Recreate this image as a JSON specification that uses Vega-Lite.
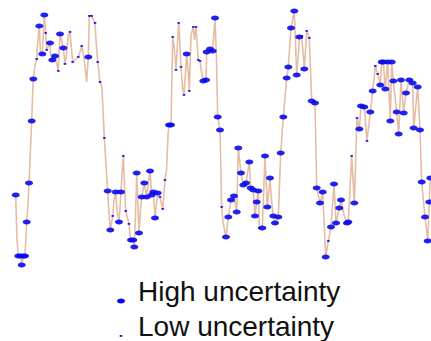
{
  "$schema": "https://vega.github.io/schema/vega-lite/v6.json",
  "width": 431,
  "height": 341,
  "autosize": "none",
  "padding": 0,
  "background": "white",
  "config": {"view": {"stroke": null}},
  "data": {"values": [
    {"t":15.7,"v":75,"u":"High uncertainty"},
    {"t":17,"v":30,"u":"none"},
    {"t":18.3,"v":14,"u":"High uncertainty"},
    {"t":20.7,"v":14,"u":"High uncertainty"},
    {"t":21.7,"v":5,"u":"High uncertainty"},
    {"t":23.3,"v":14,"u":"High uncertainty"},
    {"t":25,"v":14,"u":"High uncertainty"},
    {"t":26.7,"v":48,"u":"High uncertainty"},
    {"t":28,"v":65,"u":"none"},
    {"t":29,"v":87,"u":"High uncertainty"},
    {"t":31.7,"v":149,"u":"High uncertainty"},
    {"t":32.5,"v":173,"u":"none"},
    {"t":33.3,"v":191,"u":"High uncertainty"},
    {"t":35,"v":204,"u":"none"},
    {"t":36.7,"v":211,"u":"Low uncertainty"},
    {"t":37.5,"v":225,"u":"none"},
    {"t":39.3,"v":244,"u":"High uncertainty"},
    {"t":40.5,"v":217,"u":"none"},
    {"t":42.3,"v":216,"u":"High uncertainty"},
    {"t":44.3,"v":255,"u":"High uncertainty"},
    {"t":45.7,"v":237,"u":"Low uncertainty"},
    {"t":46.7,"v":220,"u":"Low uncertainty"},
    {"t":50,"v":227,"u":"High uncertainty"},
    {"t":50.7,"v":215,"u":"none"},
    {"t":52.3,"v":210,"u":"High uncertainty"},
    {"t":55,"v":214,"u":"High uncertainty"},
    {"t":58.3,"v":199,"u":"Low uncertainty"},
    {"t":60,"v":236,"u":"High uncertainty"},
    {"t":63.3,"v":222,"u":"High uncertainty"},
    {"t":65,"v":206,"u":"Low uncertainty"},
    {"t":66.7,"v":217,"u":"none"},
    {"t":68.3,"v":235,"u":"none"},
    {"t":70,"v":238,"u":"Low uncertainty"},
    {"t":72.7,"v":208,"u":"Low uncertainty"},
    {"t":75,"v":210,"u":"none"},
    {"t":78.3,"v":213,"u":"Low uncertainty"},
    {"t":80,"v":218,"u":"none"},
    {"t":81.7,"v":224,"u":"Low uncertainty"},
    {"t":83.3,"v":217,"u":"none"},
    {"t":85,"v":203,"u":"none"},
    {"t":86.7,"v":188,"u":"none"},
    {"t":88.3,"v":213,"u":"High uncertainty"},
    {"t":89.3,"v":254,"u":"Low uncertainty"},
    {"t":91.7,"v":254,"u":"Low uncertainty"},
    {"t":95,"v":247,"u":"Low uncertainty"},
    {"t":96,"v":230,"u":"none"},
    {"t":97.7,"v":208,"u":"Low uncertainty"},
    {"t":100,"v":188,"u":"Low uncertainty"},
    {"t":102,"v":182,"u":"none"},
    {"t":104.3,"v":132,"u":"Low uncertainty"},
    {"t":106,"v":105,"u":"none"},
    {"t":107.7,"v":79,"u":"High uncertainty"},
    {"t":109,"v":55,"u":"none"},
    {"t":110.3,"v":40,"u":"High uncertainty"},
    {"t":112.7,"v":54,"u":"Low uncertainty"},
    {"t":114,"v":70,"u":"none"},
    {"t":115.7,"v":78,"u":"High uncertainty"},
    {"t":117,"v":60,"u":"none"},
    {"t":119,"v":48,"u":"High uncertainty"},
    {"t":121,"v":78,"u":"High uncertainty"},
    {"t":122,"v":95,"u":"none"},
    {"t":123.3,"v":114,"u":"Low uncertainty"},
    {"t":124.5,"v":85,"u":"none"},
    {"t":125.7,"v":59,"u":"Low uncertainty"},
    {"t":127.5,"v":52,"u":"none"},
    {"t":129,"v":46,"u":"Low uncertainty"},
    {"t":130,"v":35,"u":"none"},
    {"t":131,"v":30,"u":"High uncertainty"},
    {"t":133.3,"v":30,"u":"High uncertainty"},
    {"t":134.3,"v":23,"u":"High uncertainty"},
    {"t":135.5,"v":55,"u":"none"},
    {"t":136.7,"v":97,"u":"High uncertainty"},
    {"t":138,"v":65,"u":"none"},
    {"t":139,"v":37,"u":"High uncertainty"},
    {"t":140.5,"v":60,"u":"none"},
    {"t":141.7,"v":73,"u":"High uncertainty"},
    {"t":144.3,"v":87,"u":"High uncertainty"},
    {"t":146.7,"v":73,"u":"High uncertainty"},
    {"t":148,"v":85,"u":"none"},
    {"t":150,"v":99,"u":"High uncertainty"},
    {"t":151.7,"v":75,"u":"High uncertainty"},
    {"t":153.3,"v":78,"u":"High uncertainty"},
    {"t":155,"v":52,"u":"High uncertainty"},
    {"t":157.7,"v":77,"u":"High uncertainty"},
    {"t":160,"v":73,"u":"Low uncertainty"},
    {"t":162.7,"v":61,"u":"Low uncertainty"},
    {"t":165,"v":90,"u":"Low uncertainty"},
    {"t":166.5,"v":100,"u":"none"},
    {"t":168,"v":135,"u":"none"},
    {"t":169,"v":145,"u":"High uncertainty"},
    {"t":171,"v":145,"u":"High uncertainty"},
    {"t":172.7,"v":233,"u":"Low uncertainty"},
    {"t":174,"v":225,"u":"none"},
    {"t":176,"v":200,"u":"Low uncertainty"},
    {"t":178.7,"v":247,"u":"Low uncertainty"},
    {"t":180,"v":225,"u":"none"},
    {"t":181,"v":203,"u":"Low uncertainty"},
    {"t":182.7,"v":182,"u":"none"},
    {"t":184,"v":175,"u":"Low uncertainty"},
    {"t":186.7,"v":216,"u":"High uncertainty"},
    {"t":188,"v":200,"u":"none"},
    {"t":189.3,"v":179,"u":"Low uncertainty"},
    {"t":191,"v":235,"u":"none"},
    {"t":193.3,"v":243,"u":"Low uncertainty"},
    {"t":194.5,"v":230,"u":"none"},
    {"t":196,"v":243,"u":"Low uncertainty"},
    {"t":198.3,"v":210,"u":"Low uncertainty"},
    {"t":200,"v":209,"u":"Low uncertainty"},
    {"t":201.5,"v":198,"u":"none"},
    {"t":203.3,"v":189,"u":"High uncertainty"},
    {"t":206,"v":190,"u":"High uncertainty"},
    {"t":206.7,"v":218,"u":"High uncertainty"},
    {"t":210,"v":221,"u":"High uncertainty"},
    {"t":212.7,"v":219,"u":"High uncertainty"},
    {"t":215,"v":252,"u":"High uncertainty"},
    {"t":216.5,"v":210,"u":"none"},
    {"t":217.7,"v":153,"u":"High uncertainty"},
    {"t":220,"v":140,"u":"High uncertainty"},
    {"t":221.7,"v":63,"u":"Low uncertainty"},
    {"t":223,"v":48,"u":"none"},
    {"t":226,"v":33,"u":"High uncertainty"},
    {"t":228.3,"v":53,"u":"High uncertainty"},
    {"t":231,"v":70,"u":"High uncertainty"},
    {"t":234,"v":74,"u":"High uncertainty"},
    {"t":236.7,"v":58,"u":"High uncertainty"},
    {"t":238.3,"v":122,"u":"High uncertainty"},
    {"t":241,"v":97,"u":"High uncertainty"},
    {"t":243.3,"v":85,"u":"High uncertainty"},
    {"t":246,"v":87,"u":"High uncertainty"},
    {"t":249.3,"v":108,"u":"High uncertainty"},
    {"t":250.7,"v":82,"u":"High uncertainty"},
    {"t":253.3,"v":80,"u":"High uncertainty"},
    {"t":255,"v":54,"u":"High uncertainty"},
    {"t":256.7,"v":68,"u":"High uncertainty"},
    {"t":258.3,"v":79,"u":"High uncertainty"},
    {"t":259.3,"v":42,"u":"Low uncertainty"},
    {"t":262.3,"v":42,"u":"High uncertainty"},
    {"t":265,"v":114,"u":"High uncertainty"},
    {"t":267.3,"v":63,"u":"High uncertainty"},
    {"t":270,"v":92,"u":"High uncertainty"},
    {"t":271.5,"v":70,"u":"none"},
    {"t":273.3,"v":54,"u":"High uncertainty"},
    {"t":275,"v":47,"u":"High uncertainty"},
    {"t":278.3,"v":53,"u":"High uncertainty"},
    {"t":280.7,"v":117,"u":"High uncertainty"},
    {"t":283.3,"v":153,"u":"High uncertainty"},
    {"t":286.7,"v":192,"u":"High uncertainty"},
    {"t":288.3,"v":203,"u":"High uncertainty"},
    {"t":291,"v":242,"u":"High uncertainty"},
    {"t":294.3,"v":259,"u":"High uncertainty"},
    {"t":296.7,"v":195,"u":"High uncertainty"},
    {"t":298,"v":210,"u":"none"},
    {"t":299.3,"v":233,"u":"High uncertainty"},
    {"t":301.7,"v":234,"u":"Low uncertainty"},
    {"t":304.3,"v":201,"u":"High uncertainty"},
    {"t":306.7,"v":239,"u":"Low uncertainty"},
    {"t":309.3,"v":232,"u":"Low uncertainty"},
    {"t":311.7,"v":169,"u":"High uncertainty"},
    {"t":315,"v":167,"u":"High uncertainty"},
    {"t":316.7,"v":82,"u":"High uncertainty"},
    {"t":320,"v":67,"u":"High uncertainty"},
    {"t":322.7,"v":78,"u":"High uncertainty"},
    {"t":325.7,"v":13,"u":"High uncertainty"},
    {"t":328.3,"v":29,"u":"Low uncertainty"},
    {"t":331,"v":43,"u":"High uncertainty"},
    {"t":334,"v":86,"u":"High uncertainty"},
    {"t":336,"v":47,"u":"High uncertainty"},
    {"t":339.3,"v":62,"u":"High uncertainty"},
    {"t":341,"v":70,"u":"High uncertainty"},
    {"t":344,"v":55,"u":"none"},
    {"t":347,"v":47,"u":"High uncertainty"},
    {"t":348.3,"v":48,"u":"High uncertainty"},
    {"t":351.7,"v":114,"u":"Low uncertainty"},
    {"t":354.3,"v":67,"u":"High uncertainty"},
    {"t":357,"v":152,"u":"Low uncertainty"},
    {"t":359.3,"v":141,"u":"High uncertainty"},
    {"t":361,"v":164,"u":"High uncertainty"},
    {"t":364.3,"v":163,"u":"High uncertainty"},
    {"t":367,"v":129,"u":"Low uncertainty"},
    {"t":370.3,"v":158,"u":"High uncertainty"},
    {"t":372.7,"v":179,"u":"High uncertainty"},
    {"t":375.3,"v":204,"u":"Low uncertainty"},
    {"t":377.7,"v":196,"u":"Low uncertainty"},
    {"t":380.3,"v":185,"u":"High uncertainty"},
    {"t":381.7,"v":208,"u":"High uncertainty"},
    {"t":383.3,"v":208,"u":"High uncertainty"},
    {"t":385.3,"v":181,"u":"High uncertainty"},
    {"t":387.7,"v":208,"u":"High uncertainty"},
    {"t":390.3,"v":149,"u":"High uncertainty"},
    {"t":391.7,"v":208,"u":"High uncertainty"},
    {"t":393.3,"v":189,"u":"High uncertainty"},
    {"t":396.7,"v":158,"u":"High uncertainty"},
    {"t":398.7,"v":136,"u":"High uncertainty"},
    {"t":401,"v":190,"u":"High uncertainty"},
    {"t":403.7,"v":157,"u":"High uncertainty"},
    {"t":406,"v":177,"u":"High uncertainty"},
    {"t":409.3,"v":190,"u":"High uncertainty"},
    {"t":412.7,"v":187,"u":"High uncertainty"},
    {"t":413.7,"v":142,"u":"High uncertainty"},
    {"t":417.7,"v":183,"u":"High uncertainty"},
    {"t":420,"v":140,"u":"High uncertainty"},
    {"t":421.7,"v":88,"u":"High uncertainty"},
    {"t":425,"v":53,"u":"High uncertainty"},
    {"t":427.7,"v":29,"u":"High uncertainty"},
    {"t":429.3,"v":68,"u":"High uncertainty"},
    {"t":430.3,"v":92,"u":"High uncertainty"}
  ]},
  "encoding": {
    "x": {"field": "t", "type": "quantitative", "scale": {"domain": [0, 431], "nice": false, "zero": false}, "axis": null},
    "y": {"field": "v", "type": "quantitative", "scale": {"domain": [-71, 270], "nice": false, "zero": false}, "axis": null}
  },
  "layer": [
    {
      "mark": {"type": "line", "color": "#e6bca3", "strokeWidth": 1.6, "interpolate": "linear"}
    },
    {
      "transform": [{"filter": "datum.u != 'none'"}],
      "mark": {"type": "point", "filled": true, "opacity": 0.9, "shape": "M-1,0A1,0.6,0,1,0,1,0A1,0.6,0,1,0,-1,0Z"},
      "encoding": {
        "color": {"value": "#0a0aee"},
        "size": {
          "field": "u", "type": "ordinal",
          "scale": {"domain": ["High uncertainty", "Low uncertainty"], "range": [64, 9]},
          "legend": {
            "orient": "none", "legendX": 107, "legendY": 287, "title": null,
            "padding": 0,
            "symbolType": "M-1,0A1,0.6,0,1,0,1,0A1,0.6,0,1,0,-1,0Z",
            "symbolFillColor": "#0a0aee", "symbolStrokeWidth": 0, "symbolOpacity": 1,
            "labelFont": "Liberation Sans", "labelFontSize": 28, "labelColor": "#111111",
            "labelLimit": 0,
            "labelBaseline": "alphabetic", "labelOffset": 3, "rowPadding": 7
          }
        }
      }
    }
  ]
}
